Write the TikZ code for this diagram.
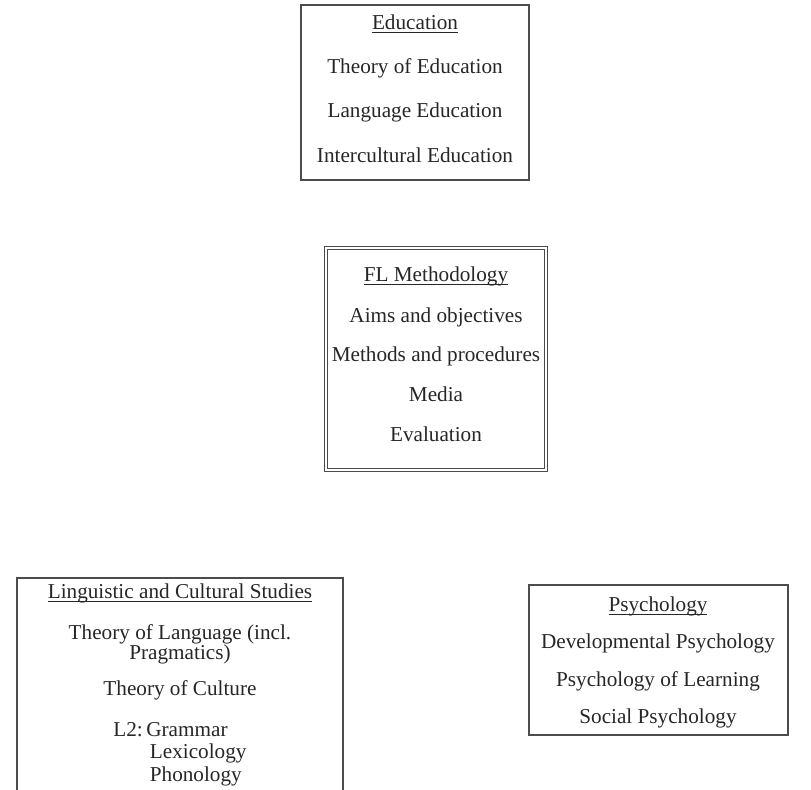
\documentclass[tikz,border=0pt]{standalone}
\usepackage{fontspec}
\setmainfont{Liberation Serif}
\usepackage{tikz}
\usetikzlibrary{positioning}

\newcommand{\headline}[1]{\underline{\raisebox{0pt}[\height][0.3pt]{#1}}}

\begin{document}
\begin{tikzpicture}[
  x=0.5pt, y=-0.5pt,
  frame/.style={rectangle, draw=black!70, line width=0.6pt, inner sep=0pt},
  dframe/.style={frame, double=white, double distance=1.1pt, line width=0.5pt},
  txt/.style={font=\fontsize{10.6}{12.7}\selectfont, text=black!85, inner sep=0pt},
  item/.style={txt, text height=7pt, text depth=2pt, yshift=-1.2pt},
  every node/.style={align=center}
]
  \useasboundingbox (0,0) rectangle (811,790);

  % Education
  \node[frame, minimum width=114pt, minimum height=87.5pt] (edu) at (415,92.5) {};
  \node[item] (edu0) at (415,22) {\headline{Education}};
  \node[item] (edu1) at (415,66) {Theory of Education};
  \node[item] (edu2) at (415,110) {Language Education};
  \node[item] (edu3) at (415,155) {Intercultural Education};

  % FL Methodology
  \node[dframe, minimum width=110pt, minimum height=111pt] (flm) at (436,359) {};
  \node[item] (flm0) at (436,274) {\headline{FL Methodology}};
  \node[item] (flm1) at (436,315) {Aims and objectives};
  \node[item] (flm2) at (436,354) {Methods and procedures};
  \node[item] (flm3) at (436,394) {Media};
  \node[item] (flm4) at (436,434) {Evaluation};

  % Linguistic and Cultural Studies (open at the bottom)
  \coordinate (lingBL) at (17,790);
  \coordinate (lingTR) at (343,578);
  \coordinate (lingBR) at (343,790);
  \draw[draw=black!70, line width=0.6pt] (lingBL) |- (lingTR) -- (lingBR);
  \node[item] (ling0) at (180,591) {\headline{Linguistic and Cultural Studies}};
  \node[item] (ling1) at (180,632) {Theory of Language (incl.};
  \node[item] (ling2) at (180,652) {Pragmatics)};
  \node[item] (ling3) at (180,688) {Theory of Culture};
  \node[txt, anchor=north west, align=left] (ling4) at (113,718)
    {\begin{tabular}{@{}l@{\,}l@{}}L2: & Grammar\\[-1.3pt] & \,Lexicology\\[-1.3pt] & \,Phonology\end{tabular}};

  % Psychology
  \node[frame, minimum width=129.5pt, minimum height=75pt] (psy) at (658.5,660) {};
  \node[item] (psy0) at (658,604) {\headline{Psychology}};
  \node[item] (psy1) at (658,641) {Developmental Psychology};
  \node[item] (psy2) at (658,679) {Psychology of Learning};
  \node[item] (psy3) at (658,716) {Social Psychology};

\end{tikzpicture}
\end{document}
